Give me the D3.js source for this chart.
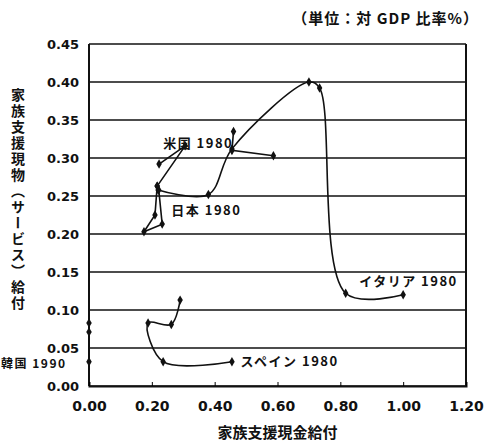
<!DOCTYPE html>
<html><head><meta charset="utf-8">
<script src="https://cdn.jsdelivr.net/npm/d3@7"></script>
<style>
body{margin:0;background:#fff;}
svg text{font-family:"Noto Sans CJK JP","DejaVu Sans",sans-serif;fill:#111;}
</style></head>
<body><svg id="c" width="485" height="444"></svg>
<script>
const xTicks=[0,0.2,0.4,0.6,0.8,1.0,1.2];
const xTickLabels=["0.00","0.20","0.40","0.60","0.80","1.00","1.20"];
const yTicks=[0,0.05,0.1,0.15,0.2,0.25,0.3,0.35,0.4,0.45];
const yTickLabels=["0.00","0.05","0.10","0.15","0.20","0.25","0.30","0.35","0.40","0.45"];
// series: [x (cash), y (in-kind)]
const italy=[[0.22,0.258],[0.38,0.252],[0.455,0.312],[0.70,0.40],[0.734,0.392],[0.817,0.122],[1.00,0.12]];
const usa=[[0.46,0.335],[0.455,0.31],[0.587,0.303]];
const other=[[0.223,0.292],[0.306,0.316],[0.217,0.263]];
const japan=[[0.222,0.258],[0.233,0.213],[0.175,0.203],[0.21,0.225],[0.217,0.263]];
const spain=[[0.455,0.032],[0.236,0.032],[0.188,0.083],[0.262,0.081],[0.29,0.113]];
const korea=[[0,0.032],[0,0.071],[0,0.083]];
const labels=[
 {t:"米国 1980",x:0.236,y:0.313,s:13},
 {t:"日本 1980",x:0.262,y:0.225,s:13},
 {t:"イタリア 1980",x:0.86,y:0.131,s:13},
 {t:"スペイン 1980",x:0.482,y:0.026,s:13},
 {t:"韓国 1990",x:-0.28,y:0.024,s:12}
];
const svg=d3.select("#c");
const x=d3.scaleLinear().domain([0,1.2]).range([89,466]);
const y=d3.scaleLinear().domain([0,0.45]).range([386,44]);
// grid
svg.append("g").selectAll("line").data(yTicks).join("line")
 .attr("x1",x(0)).attr("x2",x(1.2)).attr("y1",d=>y(d)).attr("y2",d=>y(d))
 .attr("stroke","#111").attr("stroke-width",1.6);
svg.append("line").attr("x1",x(0)).attr("x2",x(0)).attr("y1",y(0)).attr("y2",y(0.45)).attr("stroke","#111").attr("stroke-width",2);
svg.append("line").attr("x1",x(1.2)).attr("x2",x(1.2)).attr("y1",y(0)).attr("y2",y(0.45)).attr("stroke","#111").attr("stroke-width",2);
// axes
const xa=svg.append("g").attr("transform",`translate(0,${y(0)})`)
 .call(d3.axisBottom(x).tickValues(xTicks).tickFormat((d,i)=>xTickLabels[i]).tickSize(-4).tickPadding(15));
xa.select(".domain").attr("stroke","#111").attr("stroke-width",2);
xa.selectAll("text").attr("font-size",14).attr("font-weight","bold").style("font-family","'DejaVu Sans',sans-serif");
const ya=svg.append("g").attr("transform",`translate(${x(0)},0)`)
 .call(d3.axisLeft(y).tickValues(yTicks).tickFormat((d,i)=>yTickLabels[i]).tickSize(0).tickPadding(10));
ya.select(".domain").remove();
ya.selectAll("text").attr("font-size",13).attr("font-weight","bold").style("font-family","'DejaVu Sans',sans-serif");
// lines
const smooth=d3.line().x(d=>x(d[0])).y(d=>y(d[1])).curve(d3.curveCatmullRom.alpha(0.5));
const straight=d3.line().x(d=>x(d[0])).y(d=>y(d[1]));
const series=[{d:italy,c:smooth},{d:usa,c:straight},{d:other,c:straight},{d:japan,c:straight},{d:spain,c:smooth},{d:korea,c:straight}];
series.forEach(s=>{
 svg.append("path").attr("d",s.c(s.d)).attr("fill","none").attr("stroke","#111").attr("stroke-width",1.6);
 svg.append("g").selectAll("path").data(s.d).join("path")
  .attr("d",d3.symbol(d3.symbolDiamond,26)).attr("transform",d=>`translate(${x(d[0])},${y(d[1])})`).attr("fill","#111");
});
// labels
svg.append("g").selectAll("text").data(labels).join("text")
 .attr("x",d=>x(d.x)).attr("y",d=>y(d.y))
 .attr("font-size",d=>d.s).attr("font-weight","bold").style("letter-spacing","1.5px").text(d=>d.t);
svg.append("text").attr("x",479).attr("y",24).attr("text-anchor","end").attr("font-size",15).attr("font-weight","bold").style("letter-spacing","1px").text("（単位：対 GDP 比率%）");
svg.append("text").attr("x",x(0.6)).attr("y",438).attr("text-anchor","middle").attr("font-size",15).attr("font-weight","bold").text("家族支援現金給付");
svg.append("text").attr("x",18).attr("y",88).attr("font-size",14).attr("font-weight","bold")
 .style("writing-mode","vertical-rl").style("letter-spacing","2px").text("家族支援現物（サービス）給付");
</script></body></html>
